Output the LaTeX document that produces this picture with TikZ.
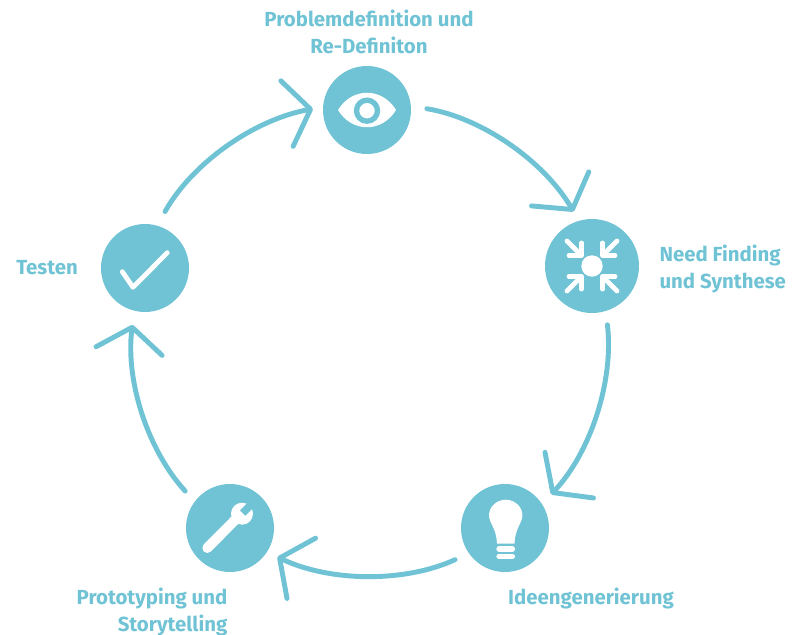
\documentclass[tikz,border=0pt]{standalone}
\usepackage{fontspec}
\setmainfont{Fira Sans}
\usepackage{xcolor}
\usetikzlibrary{arrows.meta, positioning}
\definecolor{cycleblue}{HTML}{6FC3D4}
\tikzset{
    stepcircle/.style={circle, fill=cycleblue, minimum size=66pt, inner sep=0pt},
    steplabel/.style={text=cycleblue, font=\fontsize{15.3}{20.3}\selectfont\bfseries, inner sep=0pt},
    flow/.style={-{Straight Barb[length=18pt, width=50pt, round]}, draw=cycleblue, line width=3.7pt, line cap=round, line join=round, bend left=25, looseness=0.89},
    iconline/.style={draw=white, line width=3.6pt, line cap=round, line join=round}
}
\begin{document}
\begin{tikzpicture}[x=0.75pt, y=-0.75pt]
    \useasboundingbox (0,0) rectangle (796,635);
    \node (eye) [stepcircle] at (367,110) {};
    \node (need) [stepcircle, minimum size=70.5pt] at (592,266) {};
    \node (bulb) [stepcircle] at (505,528) {};
    \node (wrench) [stepcircle] at (230,528) {};
    \node (check) [stepcircle] at (145,268) {};

    \node (eyelabel) [steplabel, align=center, above=9pt of eye, xshift=1.5pt] {Problemdefinition und\\Re-Definiton};
    \node (needlabel) [steplabel, align=left, right=15pt of need, yshift=-2.5pt] {Need Finding\\und Synthese};
    \node (bulblabel) [steplabel, below=11.5pt of bulb, xshift=64.5pt] {Ideengenerierung};
    \node (wrenchlabel) [steplabel, align=right, below=11.5pt of wrench, xshift=-58.5pt] {Prototyping und\\Storytelling};
    \node (checklabel) [steplabel, left=17pt of check] {Testen};

    \draw[flow, shorten <=12pt, shorten >=7.8pt] (eye.5) to (need.106);
    \draw[flow, shorten <=10.3pt, shorten >=9.8pt] (need.-73.5) to (bulb.33);
    \draw[flow, shorten <=11.3pt, shorten >=8.5pt] (bulb.215.5) to (wrench.-33);
    \draw[flow, shorten <=10.5pt, shorten >=10.5pt] (wrench.143.3) to (check.-104);
    \draw[flow, shorten <=12pt, shorten >=7.5pt] (check.74.8) to (eye.176);

    % eye
    \begin{scope}[shift={(eye.center)}]
        \fill[white] (-29,0) .. controls (-15,-23) and (15,-23) .. (29,0) .. controls (15,23) and (-15,23) .. cycle;
        \draw[cycleblue, line width=4pt] (0,0.7) circle (10.5);
    \end{scope}
    % arrows pointing inward
    \begin{scope}[shift={(need.center)}]
        \fill[white] (0,0) circle (10.7);
        \foreach \ang in {0,90,180,270} {
            \begin{scope}[rotate=\ang]
                \draw[iconline] (-25,-25) -- (-11,-11);
                \draw[iconline] (-10.5,-23) -- (-10.5,-10.5) -- (-23,-10.5);
            \end{scope}
        }
    \end{scope}
    % bulb
    \begin{scope}[shift={(bulb.center)}]
        \fill[white] (0.7,-28.3) .. controls (10,-28.3) and (17.4,-21) .. (17.4,-12.7) .. controls (17.4,-5) and (10,0) .. (9.5,15.7) -- (-8,15.7) .. controls (-8.6,0) and (-16,-5) .. (-16,-12.7) .. controls (-16,-21) and (-8.6,-28.3) .. cycle;
        \draw[iconline, line width=4pt] (-6,21) -- (7.4,21);
        \draw[iconline, line width=4pt] (-6,28.3) -- (7.4,28.3);
    \end{scope}
    % wrench
    \begin{scope}[shift={(wrench.center)}]
        \draw[iconline, line width=7.5pt] (-22.7,20) -- (9.7,-12.7);
        \fill[white] (12,-14.3) circle (11);
        \begin{scope}[shift={(12,-14.3)}, rotate=45]
            \fill[cycleblue] (1,-3.8) rectangle (14,3.8);
        \end{scope}
    \end{scope}
    % check mark
    \begin{scope}[shift={(check.center)}]
        \draw[iconline] (-22.7,3.7) -- (-12,19.3) -- (22.3,-15.3);
    \end{scope}
\end{tikzpicture}
\end{document}
